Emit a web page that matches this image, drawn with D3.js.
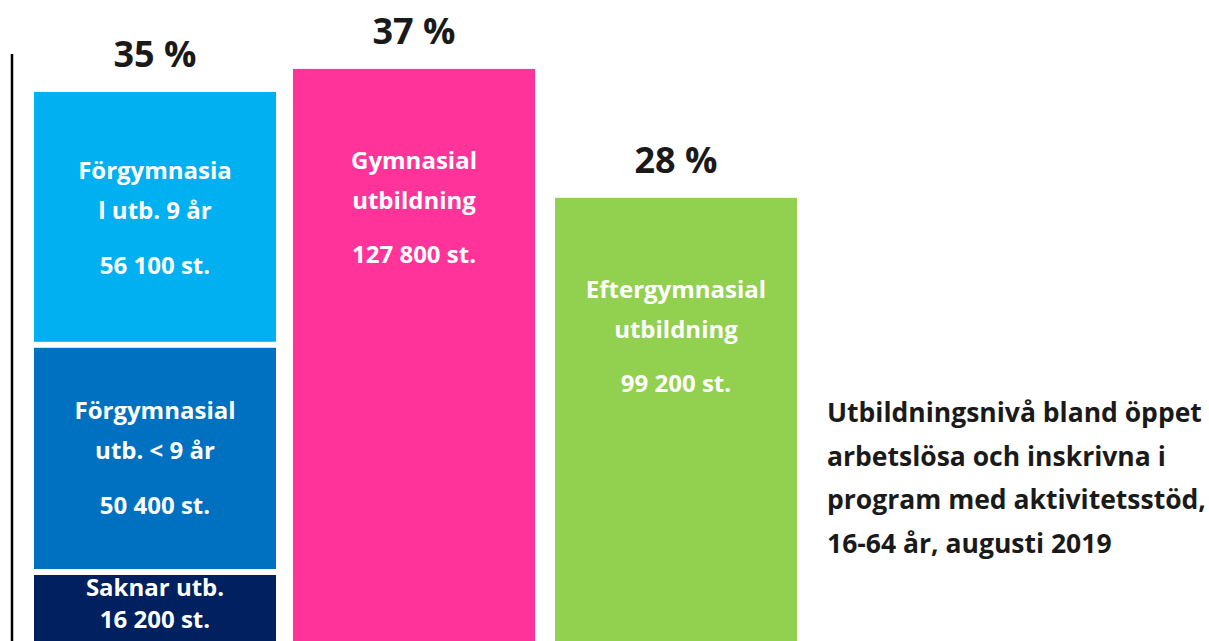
<!DOCTYPE html>
<html>
<head>
<meta charset="utf-8">
<script src="https://cdn.jsdelivr.net/npm/d3@7"></script>
<style>
  body { margin: 0; background: #fff; }
  svg { display: block; font-family: "Open Sans", sans-serif; font-weight: bold; }
</style>
</head>
<body>
<svg></svg>
<script>
// Data
const categories = ["Förgymnasial", "Gymnasial", "Eftergymnasial"];
const shares = [35, 37, 28];

// first column is split in three parts (bottom to top)
const segmentLabels = [["Saknar utb."], ["Förgymnasial", "utb. < 9 år"], ["Förgymnasia", "l utb. 9 år"]];
const segmentValues = [16200, 50400, 56100];

// the two single bars
const barLabels = [["Gymnasial", "utbildning"], ["Eftergymnasial", "utbildning"]];
const barValues = [127800, 99200];

const titleLines = ["Utbildningsnivå bland öppet", "arbetslösa och inskrivna i", "program med aktivitetsstöd,", "16-64 år, augusti 2019"];

const width = 1209, height = 641;
const segColors = ["#00205f", "#0070c0", "#00b0f0"];
const barColors = ["#ff3399", "#92d050"];

const svg = d3.select("svg")
    .attr("width", width)
    .attr("height", height);

const x = d3.scaleBand()
  .domain(categories)
  .range([34, 797])
  .paddingInner(0.071);

const y = d3.scaleLinear()
  .domain([0, 130000])
  .range([645, 59]);

const fmt = d3.formatLocale({decimal: ",", thousands: " ", grouping: [3], currency: ["", " kr"]}).format(",");

// left line
svg.append("line")
  .attr("x1", 12).attr("x2", 12)
  .attr("y1", 54).attr("y2", height)
  .attr("stroke", "#000")
  .attr("stroke-width", 2.5);

// stacked segments of the first column
const stacked = d3.stack().keys(d3.range(segmentValues.length))([segmentValues]);
const gap = 6;

const seg = svg.append("g")
  .selectAll("g")
  .data(stacked)
  .join("g");

seg.append("rect")
  .attr("x", x(categories[0]))
  .attr("width", x.bandwidth())
  .attr("y", (d, i) => y(d[0][1]) + (i < stacked.length - 1 ? gap / 2 : 0))
  .attr("height", (d, i) => y(d[0][0]) - y(d[0][1]) - (i < stacked.length - 1 ? gap / 2 : 0) - (i > 0 ? gap / 2 : 0))
  .attr("fill", (d, i) => segColors[i]);

seg.each(function(d, i) {
  const top = y(d[0][1]) + gap / 2;
  const bottom = Math.min(y(d[0][0]) - gap / 2, height - 8);
  const lines = segmentLabels[i];
  const compact = lines.length === 1;
  // baselines relative to the first line
  const offs = compact ? [0, 32] : [0, 40, 95];
  const blockMid = (offs[offs.length - 1] - 17) / 2;
  const base = (top + bottom) / 2 - blockMid;
  const texts = lines.concat([fmt(segmentValues[i]) + " st."]);
  d3.select(this).selectAll("text")
    .data(texts)
    .join("text")
      .attr("x", x(categories[0]) + x.bandwidth() / 2)
      .attr("y", (t, j) => base + offs[j])
      .attr("text-anchor", "middle")
      .attr("fill", "#fff")
      .attr("font-size", 24)
      .text(t => t);
});

// single bars
const bars = svg.append("g")
  .selectAll("g")
  .data(barValues)
  .join("g");

bars.append("rect")
  .attr("x", (d, i) => x(categories[i + 1]) - (i === 0 ? 1.5 : 0))
  .attr("width", x.bandwidth())
  .attr("y", d => y(d))
  .attr("height", d => y(0) - y(d))
  .attr("fill", (d, i) => barColors[i]);

bars.each(function(d, i) {
  const texts = barLabels[i].concat([fmt(d) + " st."]);
  const offs = [100, 140, 194];
  d3.select(this).selectAll("text")
    .data(texts)
    .join("text")
      .attr("x", x(categories[i + 1]) + x.bandwidth() / 2 - (i === 0 ? 1.5 : 0))
      .attr("y", (t, j) => y(d) + offs[j])
      .attr("text-anchor", "middle")
      .attr("fill", "#fff")
      .attr("font-size", 24)
      .text(t => t);
});

// percentage labels above each column
const totals = [d3.sum(segmentValues)].concat(barValues);
svg.append("g")
  .selectAll("text")
  .data(shares)
  .join("text")
    .attr("x", (d, i) => x(categories[i]) + x.bandwidth() / 2 - (i === 1 ? 1.5 : 0))
    .attr("y", (d, i) => y(totals[i]) - 25)
    .attr("text-anchor", "middle")
    .attr("fill", "#1a1a1a")
    .attr("font-size", 36)
    .text(d => d + " %");

// title at the right
svg.append("g")
  .selectAll("text")
  .data(titleLines)
  .join("text")
    .attr("x", 827)
    .attr("y", (d, i) => 422 + i * 43.5)
    .attr("fill", "#1a1a1a")
    .attr("font-size", 26.5)
    .text(d => d);
</script>
</body>
</html>
